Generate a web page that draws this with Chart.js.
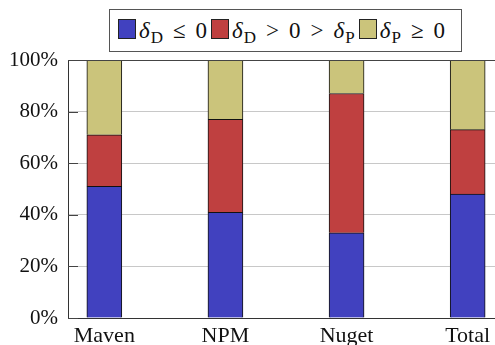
<!DOCTYPE html>
<html>
<head>
<meta charset="utf-8">
<script src="https://cdn.jsdelivr.net/npm/chart.js@4"></script>
<style>
  html, body { margin: 0; padding: 0; background: #fff; }
  #wrap { position: relative; width: 495px; height: 345px; overflow: hidden; }
  #box { position: absolute; left: 0; top: 0; width: 504px; height: 345px; }
  #legend {
    position: absolute; left: 109px; top: 9px; width: 353px; height: 43px;
    border: 1.5px solid #555; background: #fff;
    font-family: "Liberation Serif", serif; font-size: 23px; color: #111;
    display: flex; align-items: center; padding-left: 8px; box-sizing: border-box;
    white-space: nowrap;
  }
  #legend .sw { display: inline-block; width: 16px; height: 18px; border: 1px solid #222; margin-right: 3px; vertical-align: -1px; }
  #legend .item { margin-right: 4px; }
  #legend .rel { padding: 0 10px; }
  #legend sub { font-size: 17px; vertical-align: -5px; line-height: 0; margin-left: 1px; }
</style>
</head>
<body>
<div id="wrap">
  <div id="box"><canvas id="mainChart"></canvas></div>
  <div id="legend"></div>
</div>
<script>
const categories = ['Maven', 'NPM', 'Nuget', 'Total'];
const dNonPositive = [51, 41, 33, 48];      // delta_D <= 0
const dPosPNeg = [20, 36, 54, 25];          // delta_D > 0 > delta_P
const pNonNegative = [29, 23, 13, 27];      // delta_P >= 0
const yTicks = [0, 20, 40, 60, 80, 100];

const seriesNames = [
  '<i>δ</i><sub>D</sub><span class="rel">≤</span>0',
  '<i>δ</i><sub>D</sub><span class="rel">&gt;</span>0<span class="rel">&gt;</span><i>δ</i><sub>P</sub>',
  '<i>δ</i><sub>P</sub><span class="rel">≥</span>0'
];
const seriesColors = ['#4141bf', '#bf4040', '#cbc47b'];

const serif = '"Liberation Serif", serif';

// inward tick marks + top frame line, pgfplots style
const frame = {
  id: 'frame',
  afterDraw(c) {
    const ctx = c.ctx;
    const a = c.chartArea;
    const y = c.scales.y;
    ctx.save();
    ctx.strokeStyle = '#444';
    ctx.lineWidth = 1;
    yTicks.forEach(t => {
      const py = Math.round(y.getPixelForValue(t)) + 0.5;
      ctx.beginPath();
      ctx.moveTo(a.left, py);
      ctx.lineTo(a.left + 10, py);
      ctx.stroke();
    });
    ctx.beginPath();
    ctx.moveTo(a.left, a.top + 0.5);
    ctx.lineTo(a.right, a.top + 0.5);
    ctx.stroke();
    ctx.restore();
  }
};

function toPoints(arr) {
  return arr.map((v, i) => ({ x: i, y: v }));
}

const ctx = document.getElementById('mainChart').getContext('2d');
const chart = new Chart(ctx, {
  type: 'bar',
  data: {
    datasets: [dNonPositive, dPosPNeg, pNonNegative].map((d, i) => ({
      label: seriesNames[i],
      data: toPoints(d),
      backgroundColor: seriesColors[i],
      borderColor: '#111',
      borderWidth: 1,
      barThickness: 35
    }))
  },
  options: {
    responsive: true,
    maintainAspectRatio: false,
    animation: false,
    layout: { padding: { top: 60, left: 0, right: 0, bottom: 0 } },
    plugins: {
      legend: { display: false },
      tooltip: { enabled: false }
    },
    scales: {
      x: {
        type: 'linear',
        stacked: true,
        offset: false,
        min: -0.3,
        max: 3.3,
        grid: { display: false, drawTicks: false, offset: false },
        border: { display: true, color: '#333', width: 1 },
        afterBuildTicks: s => { s.ticks = categories.map((_, i) => ({ value: i })); },
        afterFit: s => { s.height = 27; },
        ticks: {
          autoSkip: false,
          maxRotation: 0,
          padding: 5,
          color: '#111',
          font: { family: serif, size: 22 },
          callback: v => categories[v] ?? ''
        }
      },
      y: {
        stacked: true,
        min: 0,
        max: 100,
        afterBuildTicks: s => { s.ticks = yTicks.map(v => ({ value: v })); },
        afterFit: s => { s.width = 68; },
        grid: { color: '#c8c8c8', drawTicks: false },
        border: { display: true, color: '#333', width: 1 },
        ticks: {
          padding: 10,
          color: '#111',
          font: { family: serif, size: 21 },
          callback: v => v + '%'
        }
      }
    }
  },
  plugins: [frame]
});

document.getElementById('legend').innerHTML = seriesNames.map((n, i) =>
  `<span class="item"><span class="sw" style="background:${seriesColors[i]}"></span>${n}</span>`
).join('');
</script>
</body>
</html>
